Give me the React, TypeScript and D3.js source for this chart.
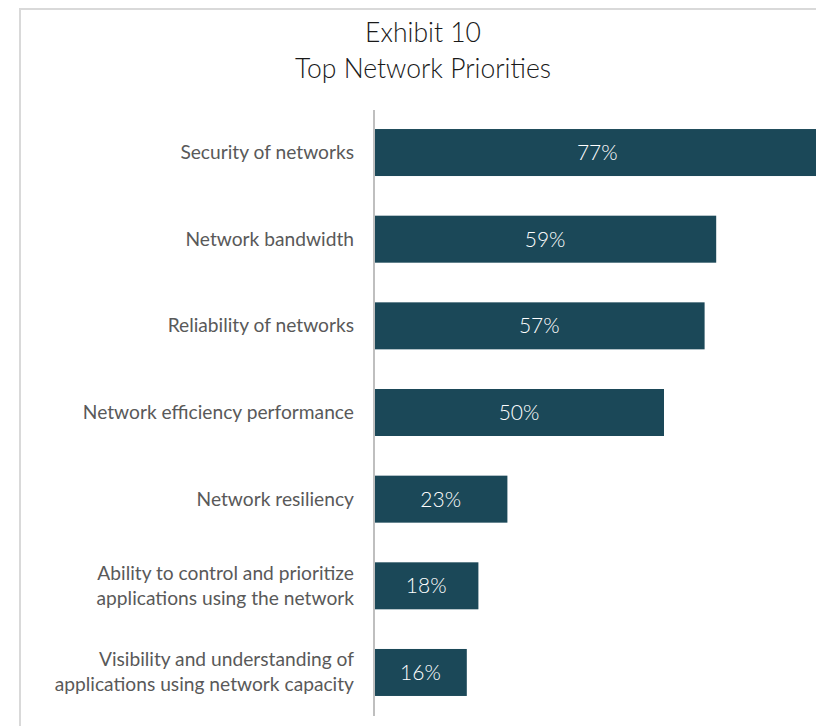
import React from "react";
import * as d3 from "d3";

const categories: string[][] = [
  ["Security of networks"],
  ["Network bandwidth"],
  ["Reliability of networks"],
  ["Network efficiency performance"],
  ["Network resiliency"],
  ["Ability to control and prioritize", "applications using the network"],
  ["Visibility and understanding of", "applications using network capacity"],
];
const values: number[] = [77, 59, 57, 50, 23, 18, 16];
const titleLines: string[] = ["Exhibit 10", "Top Network Priorities"];

const W = 816;
const H = 726;
const FONT = "Lato, 'Open Sans', sans-serif";

export default function App() {
  const x0 = 374;
  const x = d3.scaleLinear().domain([0, 77]).range([x0, x0 + 446.6]);
  const y = d3
    .scaleBand<number>()
    .domain(values.map((_, i) => i))
    .range([109.1, 715.9])
    .paddingInner(0.4577)
    .paddingOuter(0.23);
  const bw = y.bandwidth();

  return (
    <svg
      width={W}
      height={H}
      style={{ position: "fixed", left: 0, top: 0, display: "block" }}
    >
      <rect x={0} y={0} width={W} height={H} fill="#ffffff" />
      <path d={`M20,${H} L20,9 L${W},9`} fill="none" stroke="#d9d9d9" strokeWidth={2} />
      {titleLines.map((t, i) => (
        <text
          key={i}
          x={423}
          y={42 + i * 36}
          textAnchor="middle"
          fontFamily={FONT}
          fontWeight={300}
          fontSize={26.5}
          fill="#1a1a1a"
        >
          {t}
        </text>
      ))}
      {values.map((v, i) => {
        const yy = y(i)!;
        return (
          <g key={i}>
            <rect x={x(0)} y={yy} width={x(v) - x(0)} height={bw} fill="#1b4858" />
            <text
              x={(x(0) + x(v)) / 2}
              y={yy + bw / 2}
              dy="0.36em"
              textAnchor="middle"
              fontFamily={FONT}
              fontWeight={300}
              fontSize={21}
              fill="#ffffff"
            >
              {v}%
            </text>
            {categories[i].map((line, j) => (
              <text
                key={j}
                x={354}
                y={yy + bw / 2 + (j - (categories[i].length - 1) / 2) * 25}
                dy="0.34em"
                textAnchor="end"
                fontFamily={FONT}
                fontWeight={400}
                fontSize={19.2}
                fill="#595959"
              >
                {line}
              </text>
            ))}
          </g>
        );
      })}
      <line x1={x(0)} x2={x(0)} y1={110} y2={716} stroke="#bfbfbf" strokeWidth={2} />
    </svg>
  );
}
